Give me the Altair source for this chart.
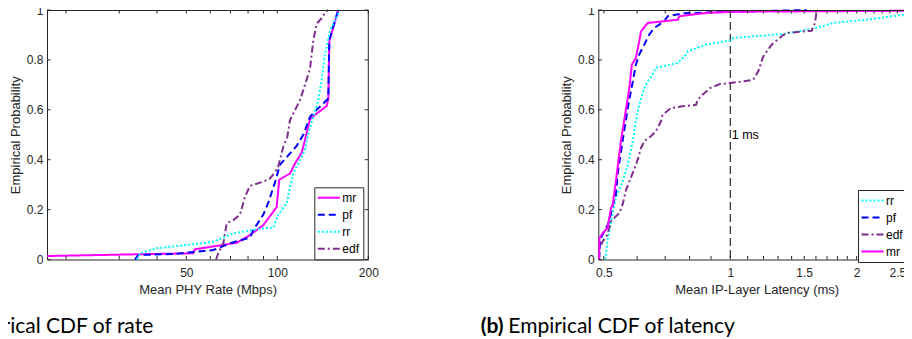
import math
import altair as alt
import pandas as pd

# ---------------- data ----------------
# (a) Mean PHY rate (Mbps) vs empirical probability
rate_names = ["mr", "pf", "rr", "edf"]
rate_colors = ["#FF00FF", "#0000FF", "#00FFFF", "#7E2F8E"]
rate_dashes = [[1, 0], [7, 4], [2, 2], [7, 3, 2, 3]]

rate_mr_x = [17.3, 52.6, 53.4, 73.4, 81.2, 89.9, 99.5, 101.5, 110.2, 114.4, 120.4, 123.5, 128.3, 133.3, 145.7, 147.5, 148.6, 153.2, 159.1]
rate_mr_p = [0.014, 0.025, 0.041, 0.067, 0.098, 0.138, 0.21, 0.32, 0.345, 0.385, 0.428, 0.48, 0.562, 0.58, 0.615, 0.645, 0.875, 0.93, 1.0]

rate_pf_x = [33.8, 34.7, 45.3, 61.4, 69.8, 81.2, 83.3, 89.9, 93.5, 98.3, 102.1, 107.4, 115.9, 121.9, 128.3, 135.0, 147.5, 148.6, 153.2, 159.1]
rate_pf_p = [0.0, 0.018, 0.022, 0.038, 0.065, 0.088, 0.118, 0.18, 0.23, 0.31, 0.38, 0.41, 0.455, 0.5, 0.572, 0.6, 0.645, 0.88, 0.935, 1.0]

rate_rr_x = [34.4, 35.1, 39.9, 50.0, 61.4, 71.5, 89.9, 97.0, 100.8, 107.4, 110.2, 113.0, 117.3, 123.5, 126.6, 131.6, 136.6, 140.2, 143.8, 149.4, 161.2]
rate_rr_p = [0.0, 0.025, 0.045, 0.058, 0.071, 0.105, 0.125, 0.128, 0.18, 0.225, 0.292, 0.345, 0.386, 0.439, 0.506, 0.572, 0.639, 0.72, 0.822, 0.918, 1.0]

rate_edf_x = [62.7, 63.8, 66.3, 68.0, 71.5, 75.3, 78.2, 81.2, 89.9, 94.6, 98.3, 100.8, 104.7, 107.9, 110.2, 114.4, 118.9, 121.9, 128.3, 131.6, 135.0, 140.2, 143.8, 147.5]
rate_edf_p = [0.0, 0.025, 0.065, 0.145, 0.158, 0.18, 0.252, 0.295, 0.312, 0.325, 0.35, 0.375, 0.452, 0.492, 0.559, 0.599, 0.639, 0.679, 0.765, 0.88, 0.945, 0.967, 0.99, 1.0]

# (b) Mean IP-layer latency (ms) vs empirical probability
lat_names = ["rr", "pf", "edf", "mr"]
lat_colors = ["#00FFFF", "#0000FF", "#7E2F8E", "#FF00FF"]
lat_dashes = [[2, 2], [7, 4], [7, 3, 2, 3], [1, 0]]

lat_rr_x = [0.504, 0.510, 0.520, 0.534, 0.554, 0.570, 0.586, 0.596, 0.607, 0.624, 0.636, 0.653, 0.665, 0.750, 0.784, 0.792, 0.875, 1.0, 1.016, 1.337, 1.577, 1.759, 2.113, 2.536, 2.709, 3.0]
lat_rr_p = [0.0, 0.073, 0.153, 0.246, 0.313, 0.38, 0.474, 0.554, 0.62, 0.687, 0.714, 0.741, 0.768, 0.788, 0.821, 0.834, 0.861, 0.878, 0.888, 0.904, 0.925, 0.948, 0.961, 0.979, 0.988, 1.0]

lat_pf_x = [0.487, 0.490, 0.500, 0.508, 0.515, 0.525, 0.534, 0.539, 0.554, 0.570, 0.586, 0.596, 0.607, 0.624, 0.641, 0.659, 0.696, 0.710, 0.773, 1.0, 1.52]
lat_pf_p = [0.0, 0.08, 0.11, 0.13, 0.153, 0.22, 0.26, 0.34, 0.474, 0.607, 0.714, 0.781, 0.821, 0.861, 0.901, 0.928, 0.955, 0.975, 0.987, 0.993, 1.0]

lat_edf_x = [0.487, 0.488, 0.497, 0.510, 0.520, 0.534, 0.544, 0.554, 0.565, 0.575, 0.590, 0.602, 0.613, 0.624, 0.647, 0.665, 0.684, 0.690, 0.722, 0.770, 0.829, 0.836, 0.860, 0.895, 0.945, 1.0, 1.134, 1.166, 1.198, 1.255, 1.326, 1.362, 1.563, 1.591, 1.606, 1.620]
lat_edf_p = [0.0, 0.046, 0.073, 0.10, 0.153, 0.173, 0.186, 0.22, 0.28, 0.313, 0.36, 0.40, 0.447, 0.474, 0.494, 0.514, 0.554, 0.58, 0.607, 0.614, 0.62, 0.64, 0.661, 0.687, 0.703, 0.707, 0.72, 0.754, 0.814, 0.861, 0.895, 0.908, 0.917, 0.948, 0.995, 1.0]

lat_mr_x = [0.487, 0.488, 0.497, 0.510, 0.520, 0.525, 0.539, 0.549, 0.565, 0.575, 0.583, 0.596, 0.607, 0.613, 0.636, 0.750, 0.756, 0.875, 1.016, 2.70, 3.0]
lat_mr_p = [0.0, 0.086, 0.106, 0.126, 0.206, 0.22, 0.367, 0.474, 0.607, 0.687, 0.781, 0.808, 0.874, 0.915, 0.948, 0.961, 0.975, 0.988, 0.993, 0.997, 1.0]

# axis ticks / limits
rate_domain = [17.3, 200]
rate_labels = [50, 100, 200]
rate_ticks = [20, 30, 40, 50, 60, 70, 80, 90, 100, 200]
lat_domain = [0.485, 2.755]
lat_labels = [0.5, 1, 1.5, 2, 2.5]
lat_ticks = [0.5, 0.6, 0.7, 0.8, 0.9, 1.0, 1.1, 1.2, 1.3, 1.4, 1.5, 1.6, 1.7, 1.8, 1.9,
             2.0, 2.1, 2.2, 2.3, 2.4, 2.5, 2.6, 2.7]
prob_ticks = [0, 0.2, 0.4, 0.6, 0.8, 1]
marker_x = [1.0]
marker_p = [0.5]
marker_text = ["1 ms"]


def build(names, xs, ps):
    rows = []
    for name, xv, pv in zip(names, xs, ps):
        for i, (a, b) in enumerate(zip(xv, pv)):
            rows.append({"s": name, "x": a, "p": b, "i": i})
    return pd.DataFrame(rows)


rate_df = build(rate_names, [rate_mr_x, rate_pf_x, rate_rr_x, rate_edf_x],
                [rate_mr_p, rate_pf_p, rate_rr_p, rate_edf_p])
lat_df = build(lat_names, [lat_rr_x, lat_pf_x, lat_edf_x, lat_mr_x],
               [lat_rr_p, lat_pf_p, lat_edf_p, lat_mr_p])

# ---------------- layout / style ----------------
FONT = "Liberation Sans"
AX = "#262626"
PW_TOTAL = 896
PH = 249.5
TICK = 3.5
L0, L1 = 39.0, 360.3
R0 = 590.3
R1 = R0 + 126.4 * math.log2(lat_domain[1] / lat_domain[0])

one = pd.DataFrame({"a": [0]})


def yscale():
    return alt.Scale(domain=[0, 1], range=[PH, 0], nice=False, zero=False)


def legend(lx, ly):
    return alt.Legend(orient="none", legendX=lx, legendY=ly, title=None, direction="vertical",
                      strokeColor=AX, fillColor="white", padding=4, rowPadding=4, cornerRadius=0,
                      symbolType="M-2,0H2", symbolSize=121, symbolStrokeWidth=2, symbolOffset=4,
                      labelOffset=7, labelFont=FONT, labelFontSize=12, labelColor="black")


def panel(df, names, colors, dashes, domain, x0, x1, xlabels, xticks, xtitle, lx, ly, with_marker):
    def xs():
        return alt.Scale(type="log", domain=domain, range=[x0, x1], nice=False)

    xaxis = alt.Axis(orient="bottom", values=xlabels, format="~g", ticks=False, labelPadding=8,
                     title=xtitle, titlePadding=5, labelFlush=False, labelOverlap=False, grid=False)
    yaxis = alt.Axis(orient="left", offset=-x0, values=prob_ticks, format="~g", ticks=False,
                     labelPadding=4, title="Empirical Probability", titlePadding=4, grid=False)
    leg = legend(lx, ly)
    out = []
    if with_marker:
        mdf = pd.DataFrame({"x": marker_x, "p": marker_p, "t": marker_text})
        out.append(alt.Chart(mdf).mark_rule(color="black", strokeWidth=1, strokeDash=[8, 4]).encode(
            x=alt.X("x:Q", scale=xs(), axis=None), y=alt.value(0), y2=alt.value(PH)))
        out.append(alt.Chart(mdf).mark_text(align="left", baseline="middle", dx=1.5, font=FONT,
                                            fontSize=12.5, color="black").encode(
            x=alt.X("x:Q", scale=xs(), axis=None), y=alt.Y("p:Q", scale=yscale(), axis=None),
            text="t:N"))
    out.append(alt.Chart(df).mark_line(strokeWidth=2).encode(
        x=alt.X("x:Q", scale=xs(), axis=xaxis),
        y=alt.Y("p:Q", scale=yscale(), axis=yaxis),
        color=alt.Color("s:N", scale=alt.Scale(domain=names, range=colors), legend=leg),
        strokeDash=alt.StrokeDash("s:N", scale=alt.Scale(domain=names, range=dashes), legend=leg),
        order=alt.Order("i:Q"),
    ))
    tdf = pd.DataFrame({"x": xticks})
    pdf = pd.DataFrame({"p": prob_ticks})
    out.append(alt.Chart(tdf).mark_rule(color=AX, strokeWidth=1).encode(
        x=alt.X("x:Q", scale=xs(), axis=None), y=alt.value(PH), y2=alt.value(PH - TICK)))
    out.append(alt.Chart(tdf).mark_rule(color=AX, strokeWidth=1).encode(
        x=alt.X("x:Q", scale=xs(), axis=None), y=alt.value(0), y2=alt.value(TICK)))
    out.append(alt.Chart(pdf).mark_rule(color=AX, strokeWidth=1).encode(
        y=alt.Y("p:Q", scale=yscale(), axis=None), x=alt.value(x0), x2=alt.value(x0 + TICK)))
    out.append(alt.Chart(pdf).mark_rule(color=AX, strokeWidth=1).encode(
        y=alt.Y("p:Q", scale=yscale(), axis=None), x=alt.value(x1), x2=alt.value(x1 - TICK)))
    out.append(alt.Chart(one).mark_rule(color=AX, strokeWidth=1).encode(
        x=alt.value(x0), x2=alt.value(x1), y=alt.value(0.5)))
    out.append(alt.Chart(one).mark_rule(color=AX, strokeWidth=1).encode(
        x=alt.value(x1), y=alt.value(0), y2=alt.value(PH)))
    return out


left = panel(rate_df, rate_names, rate_colors, rate_dashes, rate_domain, L0, L1, rate_labels,
             rate_ticks, "Mean PHY Rate (Mbps)", 306.3, 177.3, False)
right = panel(lat_df, lat_names, lat_colors, lat_dashes, lat_domain, R0, R1, lat_labels,
              lat_ticks, "Mean IP-Layer Latency (ms)", 850.0, 180.0, True)

CAP_Y = 316.5


def caption(text, x, bold):
    return alt.Chart(one).mark_text(text=text, font="Lato", fontSize=21,
                                    fontWeight="bold" if bold else "normal",
                                    align="left", baseline="middle", color="black").encode(
        x=alt.value(x), y=alt.value(CAP_Y))


caps = [caption("(a)", -78.9, True), caption("Empirical CDF of rate", -51.3, False),
        caption("(b)", 472.7, True), caption("Empirical CDF of latency", 500.3, False)]

chart = alt.layer(*left, *right, *caps).resolve_scale(
    x="independent", y="independent", color="independent", strokeDash="independent"
).properties(
    width=PW_TOTAL, height=PH,
    padding={"left": 0, "top": 2, "right": 0, "bottom": 79.5},
    autosize=alt.AutoSizeParams(type="none"),
).configure_view(stroke=None).configure_axis(
    labelFont=FONT, labelFontSize=12, labelColor=AX,
    titleFont=FONT, titleFontSize=13, titleFontWeight="normal", titleColor=AX,
    domainColor=AX, domainWidth=1,
)

chart.save("out.html", embed_options={"renderer": "svg", "actions": False})
